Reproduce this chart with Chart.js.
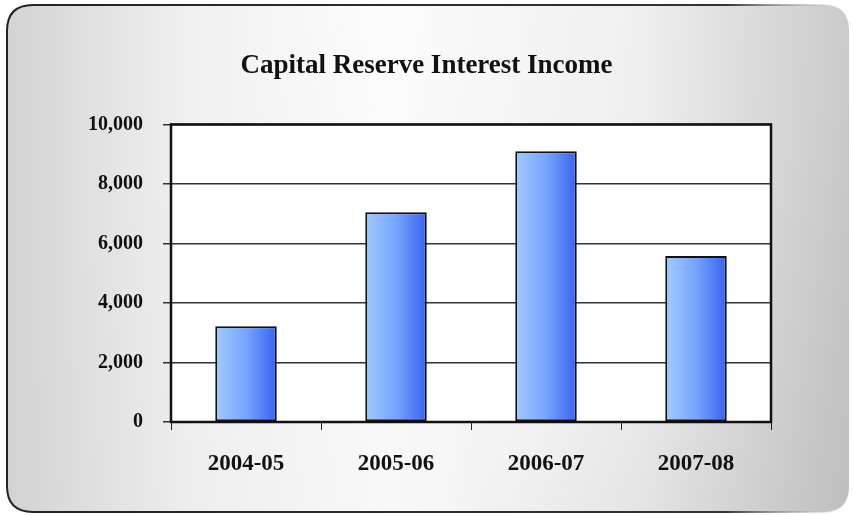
<!DOCTYPE html>
<html>
<head>
<meta charset="utf-8">
<script src="https://cdn.jsdelivr.net/npm/chart.js@4.4.1/dist/chart.umd.min.js"></script>
<style>
  html, body { margin: 0; padding: 0; background: #fff; }
  #wrap { width: 853px; height: 515px; }
</style>
</head>
<body>
<div id="wrap"><canvas id="myChart"></canvas></div>
<script>
const categories = ['2004-05', '2005-06', '2006-07', '2007-08'];
const income = [3220, 7050, 9100, 5580];
const yTicks = [0, 2000, 4000, 6000, 8000, 10000];

const BAR_PCT = 0.41;

// slide-style backdrop: rounded panel with grey gradient, white plot box
const backdrop = {
    id: 'backdrop',
    beforeDraw(chart) {
        const c = chart.ctx;
        const x0 = 7, y0 = 5, x1 = 849, y1 = 512, r = 26;
        c.save();
        c.beginPath();
        c.moveTo(x0 + r, y0);
        c.lineTo(x1 - r, y0);
        c.quadraticCurveTo(x1, y0, x1, y0 + r);
        c.lineTo(x1, y1 - r);
        c.quadraticCurveTo(x1, y1, x1 - r, y1);
        c.lineTo(x0 + r, y1);
        c.quadraticCurveTo(x0, y1, x0, y1 - r);
        c.lineTo(x0, y0 + r);
        c.quadraticCurveTo(x0, y0, x0 + r, y0);
        c.closePath();
        const g = c.createLinearGradient(0, 0, 853, 0);
        g.addColorStop(0, '#d2d2d2');
        g.addColorStop(0.22, '#f0f0f0');
        g.addColorStop(0.45, '#fdfdfd');
        g.addColorStop(0.75, '#f2f2f2');
        g.addColorStop(1, '#cdcdcd');
        c.fillStyle = g;
        c.fill();
        // slightly darker toward lower right
        const d = c.createLinearGradient(300, 0, 853, 515);
        d.addColorStop(0, 'rgba(120,120,120,0)');
        d.addColorStop(0.6, 'rgba(120,120,120,0.04)');
        d.addColorStop(1, 'rgba(120,120,120,0.18)');
        c.fillStyle = d;
        c.fill();
        const s = c.createLinearGradient(0, 0, 853, 0);
        s.addColorStop(0, '#222');
        s.addColorStop(0.85, '#333');
        s.addColorStop(0.97, 'rgba(200,200,200,0.4)');
        s.addColorStop(1, 'rgba(200,200,200,0)');
        c.strokeStyle = s;
        c.lineWidth = 2;
        c.stroke();
        const a = chart.chartArea;
        c.fillStyle = '#fff';
        c.fillRect(a.left, a.top, a.right - a.left, a.bottom - a.top);
        c.restore();
    },
    afterDraw(chart) {
        const a = chart.chartArea;
        const c = chart.ctx;
        c.save();
        c.strokeStyle = '#111';
        c.lineWidth = 2.5;
        c.strokeRect(a.left, a.top, a.right - a.left, a.bottom - a.top);
        c.restore();
    }
};

function barFill(context) {
    const chart = context.chart;
    const xs = chart.scales.x;
    if (!xs || xs.left === undefined) return '#6f9ff9';
    const cx = xs.getPixelForValue(context.dataIndex);
    const w = (xs.width / categories.length) * BAR_PCT;
    const g = chart.ctx.createLinearGradient(cx - w / 2, 0, cx + w / 2, 0);
    g.addColorStop(0, '#a2cbff');
    g.addColorStop(0.5, '#76a5fb');
    g.addColorStop(1, '#3862f2');
    return g;
}

const serif = '"Liberation Serif", "Times New Roman", serif';

new Chart(document.getElementById('myChart'), {
    type: 'bar',
    data: {
        labels: categories,
        datasets: [{
            data: income,
            backgroundColor: barFill,
            borderColor: '#111',
            borderWidth: 2,
            borderSkipped: false,
            barPercentage: BAR_PCT,
            categoryPercentage: 1,
        }]
    },
    options: {
        responsive: true,
        maintainAspectRatio: false,
        animation: false,
        layout: { padding: { top: 0, right: 0, bottom: 33, left: 0 } },
        scales: {
            x: {
                grid: {
                    offset: true,
                    drawOnChartArea: false,
                    drawTicks: true,
                    tickLength: 8,
                    color: '#222',
                    lineWidth: 1,
                },
                border: { display: false },
                ticks: {
                    color: '#111',
                    padding: 20,
                    font: { family: serif, size: 23, weight: 'bold' },
                },
                afterFit(scale) { scale.height = 60; },
            },
            y: {
                min: 0,
                max: 10000,
                afterBuildTicks(scale) {
                    scale.ticks = yTicks.map(v => ({ value: v }));
                },
                grid: {
                    color: '#333',
                    lineWidth: 1.5,
                    tickLength: 8,
                },
                border: { display: false },
                ticks: {
                    color: '#111',
                    padding: 20,
                    font: { family: serif, size: 20, weight: 'bold' },
                    callback: v => v.toLocaleString('en-US'),
                },
                afterFit(scale) { scale.width = 171; },
            },
            // empty right margin so the title centres over the whole panel
            spacer: {
                type: 'linear',
                position: 'right',
                grid: { display: false },
                border: { display: false },
                ticks: { display: false },
                afterFit(scale) { scale.width = 82; },
            }
        },
        plugins: {
            legend: { display: false },
            tooltip: { enabled: false },
            title: {
                display: true,
                text: 'Capital Reserve Interest Income',
                color: '#111',
                font: { family: serif, size: 27, weight: 'bold' },
                padding: { top: 50, bottom: 42 },
            }
        }
    },
    plugins: [backdrop]
});
</script>
</body>
</html>
